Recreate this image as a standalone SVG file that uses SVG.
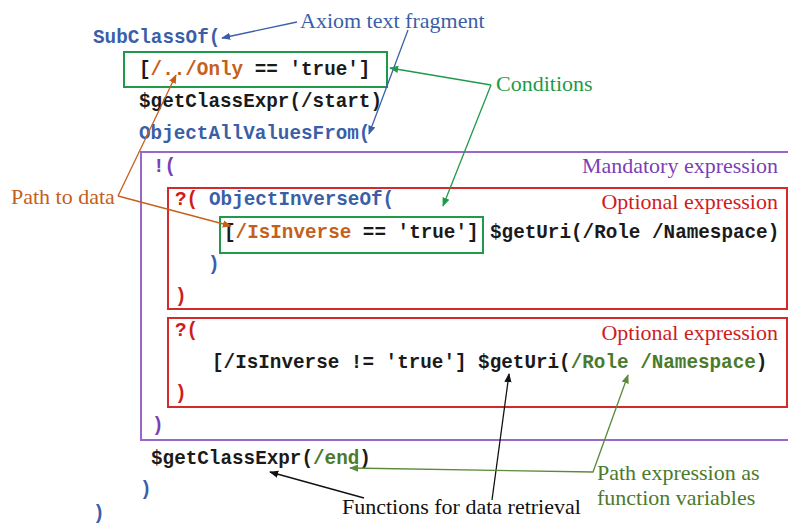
<svg xmlns="http://www.w3.org/2000/svg" width="788" height="524" viewBox="0 0 788 524">
<style>
.c{font-family:"Liberation Mono","Courier New",monospace;font-weight:bold;font-size:19.3px;fill:#1a1a1a}
.kw{fill:#3a5fa8}
.pu{fill:#7b3fb5}
.re{fill:#d01c1c}
.or{fill:#c5601c}
.dg{fill:#4b7a2c}
.l{font-family:"Liberation Serif","Times New Roman",serif;font-size:22px}
.box{fill:none;stroke-width:2}
.ln{fill:none;stroke-width:1.3}
</style>
<defs>
<marker id="ab" viewBox="0 0 10 10" refX="9" refY="5" markerWidth="7" markerHeight="7" orient="auto"><path d="M0,1 L10,5 L0,9 z" fill="#3a5fa8"/></marker>
<marker id="ag" viewBox="0 0 10 10" refX="9" refY="5" markerWidth="7" markerHeight="7" orient="auto"><path d="M0,1 L10,5 L0,9 z" fill="#1f9a4a"/></marker>
<marker id="ao" viewBox="0 0 10 10" refX="9" refY="5" markerWidth="7" markerHeight="7" orient="auto"><path d="M0,1 L10,5 L0,9 z" fill="#c5601c"/></marker>
<marker id="ak" viewBox="0 0 10 10" refX="9" refY="5" markerWidth="7" markerHeight="7" orient="auto"><path d="M0,1 L10,5 L0,9 z" fill="#111"/></marker>
<marker id="ad" viewBox="0 0 10 10" refX="9" refY="5" markerWidth="7" markerHeight="7" orient="auto-start-reverse"><path d="M0,1 L10,5 L0,9 z" fill="#5a8a3a"/></marker>
</defs>
<rect width="788" height="524" fill="#fff"/>

<g id="mandatory-box">
<rect class="box" x="141" y="152" width="660" height="288" stroke="#9a68cc"/>
<text class="l" x="778" y="173" text-anchor="end" fill="#7b3fb5">Mandatory expression</text>
</g>
<g id="optional-box-1">
<rect class="box" x="168" y="188" width="619" height="121" stroke="#d42a2a"/>
<text class="l" x="778" y="209" text-anchor="end" fill="#d01c1c">Optional expression</text>
</g>
<g id="optional-box-2">
<rect class="box" x="168" y="318" width="619" height="89" stroke="#d42a2a"/>
<text class="l" x="778" y="340" text-anchor="end" fill="#d01c1c">Optional expression</text>
</g>
<g id="condition-box-1">
<rect class="box" x="124" y="52" width="263" height="35" stroke="#1f9a4a"/>
</g>
<g id="condition-box-2">
<rect class="box" x="220" y="217" width="263" height="36" stroke="#1f9a4a"/>
</g>

<g id="code">
<text class="c kw" x="93" y="43">SubClassOf(</text>
<text class="c" x="139" y="75">[<tspan class="or">/../Only</tspan> == 'true']</text>
<text class="c" x="139" y="107">$getClassExpr(/start)</text>
<text class="c kw" x="139" y="139">ObjectAllValuesFrom(</text>
<text class="c pu" x="153" y="172">!(</text>
<text class="c" x="175" y="205"><tspan class="re">?(</tspan><tspan class="kw" x="209">ObjectInverseOf(</tspan></text>
<text class="c" x="224" y="238">[<tspan class="or">/IsInverse</tspan> == 'true']<tspan x="490">$getUri(/Role /Namespace)</tspan></text>
<text class="c kw" x="208" y="270">)</text>
<text class="c re" x="175" y="302">)</text>
<text class="c re" x="175" y="336">?(</text>
<text class="c" x="212" y="368">[/IsInverse != 'true'] $getUri(<tspan class="dg">/Role /Namespace</tspan>)</text>
<text class="c re" x="175" y="399">)</text>
<text class="c pu" x="152" y="431">)</text>
<text class="c" x="151" y="464">$getClassExpr(<tspan class="dg">/end</tspan>)</text>
<text class="c kw" x="140" y="495">)</text>
<text class="c kw" x="93" y="519">)</text>
</g>

<g id="label-axiom"><text class="l" x="300" y="28" fill="#3a5fa8">Axiom text fragment</text></g>
<g id="label-conditions"><text class="l" x="496" y="91" fill="#1f9a4a">Conditions</text></g>
<g id="label-path"><text class="l" x="11" y="204" fill="#c5601c">Path to data</text></g>
<g id="label-functions"><text class="l" x="342" y="514" fill="#111">Functions for data retrieval</text></g>
<g id="label-pathexpr"><text class="l" x="597" y="480" fill="#4b7a2c">Path expression as</text><text class="l" x="597" y="505" fill="#4b7a2c">function variables</text></g>

<g id="connectors">
<line class="ln" x1="297" y1="22" x2="222" y2="38" stroke="#3a5fa8" marker-end="url(#ab)"/>
<line class="ln" x1="408" y1="30" x2="369" y2="134" stroke="#3a5fa8" marker-end="url(#ab)"/>
<line class="ln" x1="491" y1="85" x2="390" y2="68" stroke="#1f9a4a" marker-end="url(#ag)"/>
<line class="ln" x1="491" y1="85" x2="443" y2="206" stroke="#1f9a4a" marker-end="url(#ag)"/>
<line class="ln" x1="118" y1="196" x2="176" y2="75" stroke="#c5601c" marker-end="url(#ao)"/>
<line class="ln" x1="118" y1="196" x2="231" y2="226" stroke="#c5601c" marker-end="url(#ao)"/>
<line class="ln" x1="364" y1="498" x2="270" y2="472" stroke="#111" marker-end="url(#ak)"/>
<line class="ln" x1="492" y1="500" x2="509" y2="374" stroke="#111" marker-end="url(#ak)"/>
<polyline class="ln" points="350,468 593,472 628,375" stroke="#5a8a3a" marker-start="url(#ad)" marker-end="url(#ad)"/>
</g>
</svg>
